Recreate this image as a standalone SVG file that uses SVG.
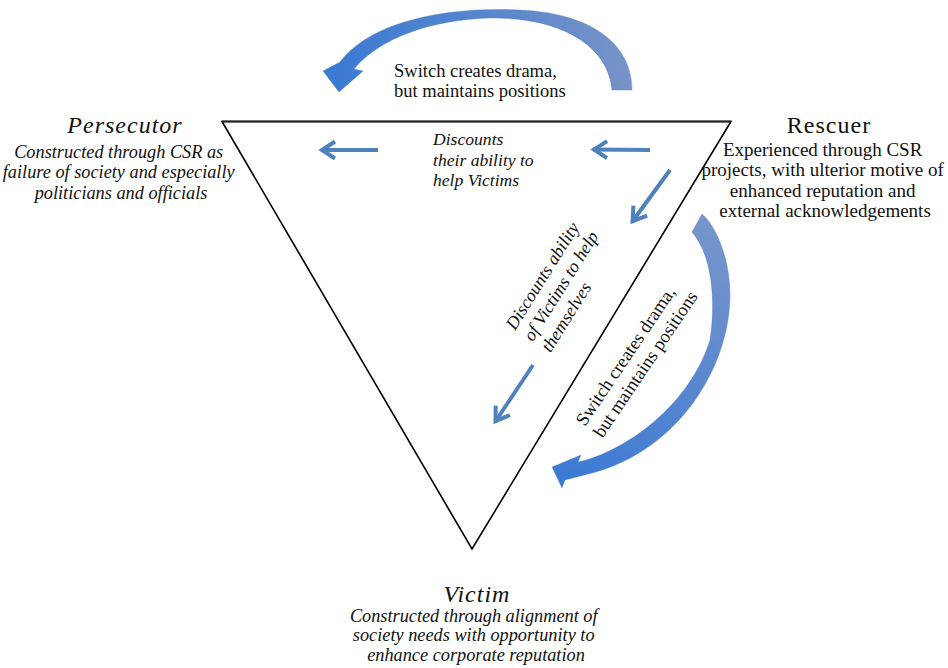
<svg xmlns="http://www.w3.org/2000/svg" width="948" height="668" viewBox="0 0 948 668">
  <defs>
    <style>
      .it { font-family: "Liberation Serif", "Times New Roman", serif; font-style: italic; fill: #111; }
      .rg { font-family: "Liberation Serif", "Times New Roman", serif; fill: #111; }
      .title { font-size: 24px; letter-spacing: 1px; }
      .sub { font-size: 18.3px; }
      .note { font-size: 18.5px; }
      .link { stroke: #4f81bd; stroke-width: 4; fill: none; marker-end: url(#vhead); }
      .swoosh { stroke: #4a79bd; stroke-width: 0.6; stroke-opacity: 0.6; }
    </style>
    <marker id="vhead" markerUnits="userSpaceOnUse" viewBox="-18 -12 22 24" refX="0" refY="0" markerWidth="22" markerHeight="24" orient="auto">
      <path d="M -14,-8.5 L -1,0 L -14,8.5" fill="none" stroke="#4f81bd" stroke-width="4" stroke-linejoin="miter"/>
    </marker>
    <linearGradient id="gradTop" gradientUnits="userSpaceOnUse" x1="632" y1="50" x2="325" y2="80">
      <stop offset="0" stop-color="#7893c8"/>
      <stop offset="0.45" stop-color="#5886cd"/>
      <stop offset="1" stop-color="#3a7ad3"/>
    </linearGradient>
    <linearGradient id="gradRight" gradientUnits="userSpaceOnUse" x1="705" y1="214" x2="565" y2="485">
      <stop offset="0" stop-color="#7895cc"/>
      <stop offset="0.5" stop-color="#5a87ce"/>
      <stop offset="1" stop-color="#3a7ad4"/>
    </linearGradient>
  </defs>

  <rect x="0" y="0" width="948" height="668" fill="#ffffff"/>

  <!-- drama triangle outline -->
  <g id="triangle">
    <polygon points="222,121.5 731,121.5 472,549" fill="none" stroke="#000" stroke-width="1.6" stroke-linejoin="miter"/>
    <line x1="222" y1="121.5" x2="731" y2="121.5" stroke="#222" stroke-width="2.2"/>
  </g>

  <!-- role nodes -->
  <g id="persecutor">
    <text class="it title" x="125" y="133" text-anchor="middle">Persecutor</text>
    <text class="it sub" text-anchor="middle">
      <tspan x="121" y="157.5">Constructed through CSR as</tspan>
      <tspan x="121" y="178">failure of society and especially</tspan>
      <tspan x="121" y="198.5">politicians and officials</tspan>
    </text>
  </g>

  <g id="rescuer">
    <text class="rg title" x="829" y="133" text-anchor="middle">Rescuer</text>
    <text class="rg" font-size="19" text-anchor="middle">
      <tspan x="825" y="155.5">Experienced through CSR</tspan>
      <tspan x="825" y="176">projects, with ulterior motive of</tspan>
      <tspan x="825" y="196.5">enhanced reputation and</tspan>
      <tspan x="825" y="217">external acknowledgements</tspan>
    </text>
  </g>

  <g id="victim">
    <text class="it title" x="477" y="601.5" text-anchor="middle">Victim</text>
    <text class="it sub" text-anchor="middle" font-size="18.5">
      <tspan x="476" y="621.5">Constructed through alignment of</tspan>
      <tspan x="476" y="641">society needs with opportunity to</tspan>
      <tspan x="476" y="660.5">enhance corporate reputation</tspan>
    </text>
  </g>

  <!-- connectors and their labels -->
  <g id="connectors">
    <!-- curved switch arrow across the top: Rescuer to Persecutor -->
    <path class="swoosh" fill="url(#gradTop)" d="M 612,90 L 632,90 C 632,48 598,14 520,10 C 440,6 368,24 340,62 L 323,71 L 339,92 L 363,71 L 354,69 C 380,38 430,20 490,18 C 560,17 608,45 612,90 Z"/>
    <text class="rg note">
      <tspan x="394" y="76.5">Switch creates drama,</tspan>
      <tspan x="394" y="96.5">but maintains positions</tspan>
    </text>

    <!-- curved switch arrow on the right: Rescuer to Victim -->
    <path class="swoosh" fill="url(#gradRight)" d="M 692,232 L 702,214 C 718,228 730,262 730,295 C 730,365 680,450 592,473 L 565,480 L 562,488 L 552,467 L 581,455 L 578,462 C 625,452 690,405 710,340 C 716,300 712,255 692,232 Z"/>
    <text class="rg note" transform="translate(585,427) rotate(-56)">
      <tspan x="0" y="0">Switch creates drama,</tspan>
      <tspan x="0" y="21">but maintains positions</tspan>
    </text>

    <!-- discounting arrows along the top edge -->
    <line class="link" x1="378" y1="150" x2="321" y2="150"/>
    <line class="link" x1="650" y1="150" x2="593" y2="149.5"/>
    <text class="it" font-size="17.6">
      <tspan x="433" y="145">Discounts</tspan>
      <tspan x="433" y="165.5">their ability to</tspan>
      <tspan x="433" y="186">help Victims</tspan>
    </text>

    <!-- discounting arrows along the right edge -->
    <line class="link" x1="670" y1="170" x2="632" y2="222"/>
    <line class="link" x1="533" y1="365" x2="495" y2="422"/>
    <text class="it" font-size="18" transform="translate(515,331) rotate(-58)">
      <tspan x="0" y="0">Discounts ability</tspan>
      <tspan x="0" y="21">of Victims to help</tspan>
      <tspan x="0" y="42">themselves</tspan>
    </text>
  </g>
</svg>
